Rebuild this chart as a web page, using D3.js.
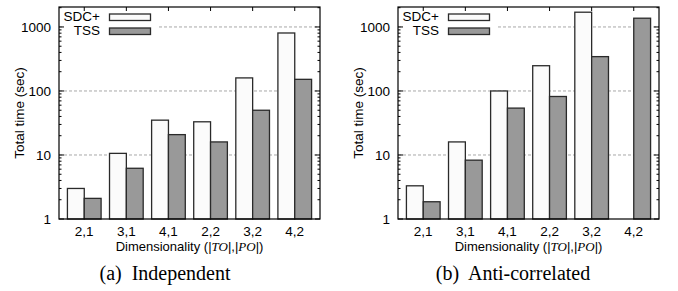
<!DOCTYPE html>
<html>
<head>
<meta charset="utf-8">
<script src="https://cdn.jsdelivr.net/npm/d3@7"></script>
<style>
  body { margin: 0; background: #fff; }
  svg { display: block; }
  .tick-label { font-family: "Liberation Sans", Arial, sans-serif; font-size: 13.5px; fill: #000; }
  .caption { font-family: "Liberation Serif", "Times New Roman", serif; font-size: 20px; fill: #000; }
</style>
</head>
<body>
<div id="chart"></div>
<script>
var categories = ["2,1", "3,1", "4,1", "2,2", "3,2", "4,2"];
var seriesNames = ["SDC+", "TSS"];
var indepSDC = [3.0, 10.6, 35, 33, 160, 805];
var indepTSS = [2.1, 6.2, 20.8, 16, 50, 152];
var antiSDC = [3.3, 16, 100, 248, 1700, null];
var antiTSS = [1.86, 8.3, 54, 82, 344, 1370];
var yTicks = [1, 10, 100, 1000];
var gridTicks = [10, 100, 1000];

var W = 678, H = 291;
var plotW = 261, plotTop = 7, plotBottom = 219;
var fills = ["#fbfbfb", "#999999"];

var svg = d3.select("#chart").append("svg")
    .attr("width", W).attr("height", H);

var y = d3.scaleLog()
    .domain([1, 2050])
    .range([plotBottom, plotTop]);

var x = d3.scaleLinear()
    .domain([-0.6, categories.length - 0.4])
    .range([0, plotW]);

var barW = x(0.4) - x(0);

// minor ticks between decades
var minorTicks = [];
[1, 10, 100, 1000].forEach(function(d) {
    for (var k = 2; k <= 9; k++) {
        if (d * k < 2050) minorTicks.push(d * k);
    }
});

function drawPanel(x0, sdc, tss, caption) {
    var g = svg.append("g").attr("transform", "translate(" + x0 + ",0)");

    // grid
    g.selectAll(".grid")
        .data(gridTicks)
        .enter().append("line").attr("class", "grid")
            .attr("x1", 0).attr("x2", plotW)
            .attr("y1", function(d) { return y(d); })
            .attr("y2", function(d) { return y(d); })
            .attr("stroke", "#a8a8a8")
            .attr("stroke-width", 1)
            .attr("stroke-dasharray", "3,2");

    // legend background (key hides the grid)
    g.append("rect")
        .attr("x", 4).attr("y", 8)
        .attr("width", 94).attr("height", 30)
        .attr("fill", "#fff");

    // y ticks, mirrored on right
    [0, plotW].forEach(function(ax, side) {
        var dir = side == 0 ? 1 : -1;
        g.selectAll(".ymaj" + side)
            .data(yTicks)
            .enter().append("line")
                .attr("x1", ax).attr("x2", ax + dir * 5)
                .attr("y1", function(d) { return y(d); })
                .attr("y2", function(d) { return y(d); })
                .attr("stroke", "#000");
        g.selectAll(".ymin" + side)
            .data(minorTicks)
            .enter().append("line")
                .attr("x1", ax).attr("x2", ax + dir * 2.5)
                .attr("y1", function(d) { return y(d); })
                .attr("y2", function(d) { return y(d); })
                .attr("stroke", "#000");
    });

    // x ticks on top
    g.selectAll(".xtop")
        .data(categories)
        .enter().append("line")
            .attr("x1", function(d, i) { return x(i); })
            .attr("x2", function(d, i) { return x(i); })
            .attr("y1", plotTop).attr("y2", plotTop + 4)
            .attr("stroke", "#000");

    // bars
    var series = [sdc, tss];
    series.forEach(function(vals, s) {
        g.selectAll(".bar" + s)
            .data(vals.map(function(v, i) { return {i: i, v: v}; }).filter(function(d) { return d.v != null; }))
            .enter().append("rect")
                .attr("x", function(d) { return x(d.i) - barW + s * barW; })
                .attr("y", function(d) { return y(d.v); })
                .attr("width", barW)
                .attr("height", function(d) { return plotBottom - y(d.v); })
                .attr("fill", fills[s])
                .attr("stroke", "#2a2a2a")
                .attr("stroke-width", 1.3);
    });

    // frame
    g.append("rect")
        .attr("x", 0).attr("y", plotTop)
        .attr("width", plotW).attr("height", plotBottom - plotTop)
        .attr("fill", "none")
        .attr("stroke", "#000")
        .attr("stroke-width", 1.2);

    // y labels
    g.selectAll(".ylab")
        .data(yTicks)
        .enter().append("text").attr("class", "tick-label")
            .attr("x", -8)
            .attr("y", function(d) { return y(d) + 5; })
            .attr("text-anchor", "end")
            .text(function(d) { return d; });

    // x labels
    g.selectAll(".xlab")
        .data(categories)
        .enter().append("text").attr("class", "tick-label")
            .attr("x", function(d, i) { return x(i); })
            .attr("y", 235.5)
            .attr("text-anchor", "middle")
            .text(function(d) { return d; });

    // axis titles
    g.append("text").attr("class", "tick-label")
        .attr("transform", "translate(-35," + ((plotTop + plotBottom) / 2) + ") rotate(-90)")
        .attr("text-anchor", "middle")
        .text("Total time (sec)");

    var xt = g.append("text").attr("class", "tick-label")
        .attr("x", plotW / 2).attr("y", 250.5)
        .attr("text-anchor", "middle")
        .style("font-size", "13px");
    xt.append("tspan").text("Dimensionality (|");
    xt.append("tspan").attr("font-family", "Liberation Serif, serif").attr("font-style", "italic").text("TO");
    xt.append("tspan").text("|,|");
    xt.append("tspan").attr("font-family", "Liberation Serif, serif").attr("font-style", "italic").text("PO");
    xt.append("tspan").text("|)");

    // legend
    seriesNames.forEach(function(name, s) {
        g.append("text").attr("class", "tick-label")
            .attr("x", 41).attr("y", 21 + s * 14)
            .attr("text-anchor", "end")
            .text(name);
        g.append("rect")
            .attr("x", 50.5).attr("y", 14 + s * 14)
            .attr("width", 41).attr("height", 6.5)
            .attr("fill", fills[s])
            .attr("stroke", "#2a2a2a")
            .attr("stroke-width", 1.3);
    });

    // caption
    svg.append("text").attr("class", "caption")
        .attr("x", caption.cx).attr("y", 280)
        .attr("text-anchor", "middle")
        .style("white-space", "pre")
        .text(caption.text);
}

drawPanel(59, indepSDC, indepTSS, {text: "(a)  Independent", cx: 165});
drawPanel(398, antiSDC, antiTSS, {text: "(b)  Anti-correlated", cx: 513});
</script>
</body>
</html>
